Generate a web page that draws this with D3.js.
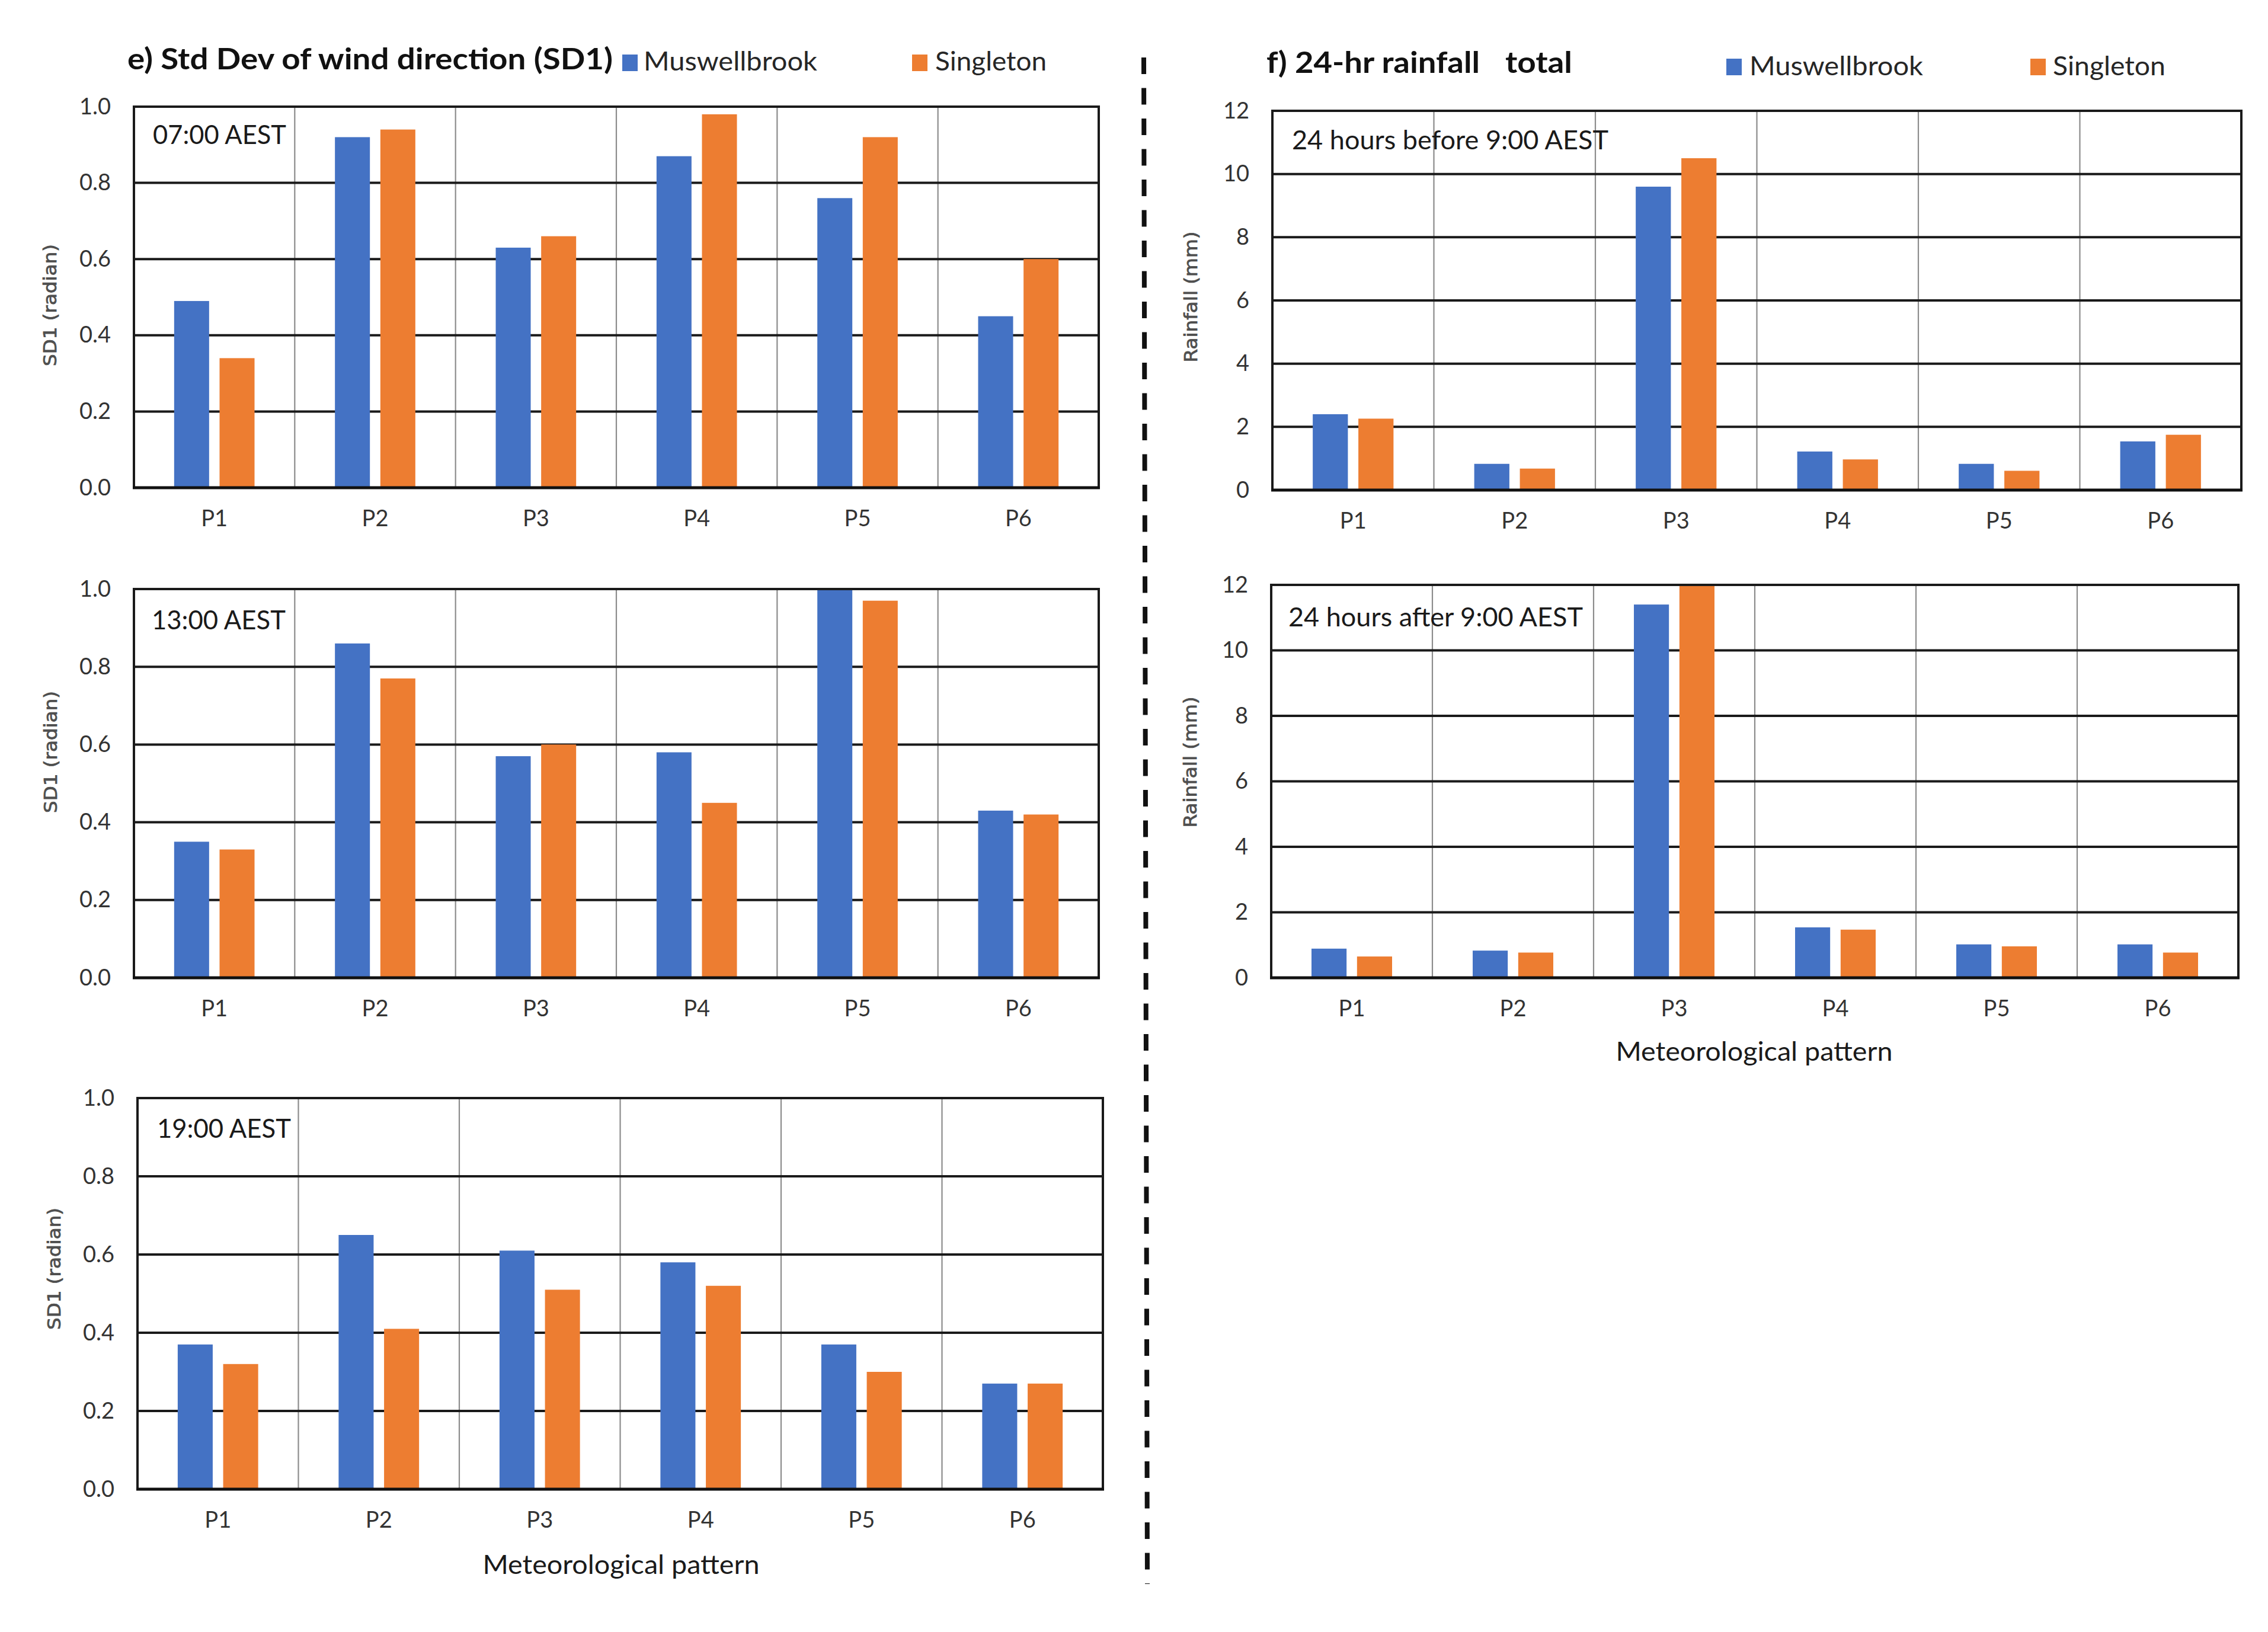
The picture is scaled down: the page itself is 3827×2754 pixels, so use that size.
<!DOCTYPE html>
<html>
<head>
<meta charset="utf-8">
<script src="https://cdn.jsdelivr.net/npm/d3@7"></script>
<style>
  html, body { margin: 0; padding: 0; background: #fff; }
  svg { display: block; }
  text { white-space: pre; }
</style>
</head>
<body>
<svg id="chart" width="3827" height="2754"></svg>
<script>
// ---------------- DATA ----------------
const categories = ["P1", "P2", "P3", "P4", "P5", "P6"];
const seriesNames = ["Muswellbrook", "Singleton"];

// e) Std Dev of wind direction (SD1), radian
const sd0700Muswellbrook = [0.49, 0.92, 0.63, 0.87, 0.76, 0.45];
const sd0700Singleton    = [0.34, 0.94, 0.66, 0.98, 0.92, 0.60];
const sd1300Muswellbrook = [0.35, 0.86, 0.57, 0.58, 1.00, 0.43];
const sd1300Singleton    = [0.33, 0.77, 0.60, 0.45, 0.97, 0.42];
const sd1900Muswellbrook = [0.37, 0.65, 0.61, 0.58, 0.37, 0.27];
const sd1900Singleton    = [0.32, 0.41, 0.51, 0.52, 0.30, 0.27];

// f) 24-hr rainfall total, mm
const rainBeforeMuswellbrook = [2.40, 0.83, 9.60, 1.22, 0.83, 1.54];
const rainBeforeSingleton    = [2.26, 0.68, 10.50, 0.97, 0.61, 1.75];
const rainAfterMuswellbrook  = [0.89, 0.83, 11.40, 1.54, 1.02, 1.02];
const rainAfterSingleton     = [0.65, 0.77, 12.00, 1.47, 0.96, 0.77];

const sdTicks = [0, 0.2, 0.4, 0.6, 0.8, 1.0];
const rainTicks = [0, 2, 4, 6, 8, 10, 12];

// ---------------- STYLE / LAYOUT ----------------
const colors = ["#4472C4", "#ED7D31"];
const FONT = "Lato, 'Open Sans', sans-serif";
const AXFONT = "'DejaVu Sans', Verdana, sans-serif";

const svg = d3.select("#chart");

function addText(sel, opts) {
  const t = sel.append("text")
    .attr("x", opts.x).attr("y", opts.y)
    .attr("font-family", opts.family || FONT)
    .attr("font-size", opts.size)
    .attr("font-weight", opts.weight || "normal")
    .attr("fill", opts.fill || "#111")
    .attr("text-anchor", opts.anchor || "start")
    .text(opts.text);
  if (opts.len) t.attr("textLength", opts.len).attr("lengthAdjust", "spacingAndGlyphs");
  if (opts.dy) t.attr("dy", opts.dy);
  if (opts.transform) t.attr("transform", opts.transform);
  if (opts.stroke) t.attr("stroke", opts.fill).attr("stroke-width", opts.stroke);
  return t;
}

function panel(cfg) {
  const g = svg.append("g");
  const x = d3.scaleBand().domain(categories).range([cfg.left, cfg.right]).padding(0);
  const y = d3.scaleLinear().domain(cfg.domain).range([cfg.bottom, cfg.top]);
  const sub = d3.scaleBand().domain(seriesNames)
    .range([-x.bandwidth() * 0.25, x.bandwidth() * 0.25]).paddingInner(0.23);

  // vertical category separators (gray)
  g.append("g").selectAll("line")
    .data(categories.slice(1))
    .join("line")
    .attr("x1", d => x(d)).attr("x2", d => x(d))
    .attr("y1", cfg.top).attr("y2", cfg.bottom)
    .attr("stroke", "#8c8c8c").attr("stroke-width", 2.2);

  // horizontal gridlines (black)
  g.append("g").selectAll("line")
    .data(cfg.ticks.slice(1))
    .join("line")
    .attr("x1", cfg.left).attr("x2", cfg.right)
    .attr("y1", d => y(d)).attr("y2", d => y(d))
    .attr("stroke", "#1a1a1a").attr("stroke-width", 4);

  // bars
  const rows = categories.map((c, i) => ({ c, vals: cfg.series.map(s => s[i]) }));
  g.append("g").selectAll("g")
    .data(rows)
    .join("g")
    .attr("transform", d => `translate(${x(d.c) + x.bandwidth() / 2},0)`)
    .selectAll("rect")
    .data(d => d.vals.map((v, k) => ({ v, k })))
    .join("rect")
    .attr("x", d => sub(seriesNames[d.k]))
    .attr("width", sub.bandwidth())
    .attr("y", d => y(Math.min(d.v, cfg.domain[1])))
    .attr("height", d => cfg.bottom - y(Math.min(d.v, cfg.domain[1])))
    .attr("fill", d => colors[d.k]);

  // plot border
  g.append("rect")
    .attr("x", cfg.left).attr("y", cfg.top)
    .attr("width", cfg.right - cfg.left).attr("height", cfg.bottom - cfg.top)
    .attr("fill", "none").attr("stroke", "#1a1a1a").attr("stroke-width", 4);
  g.append("line")
    .attr("x1", cfg.left - 2).attr("x2", cfg.right + 2)
    .attr("y1", cfg.bottom).attr("y2", cfg.bottom)
    .attr("stroke", "#111").attr("stroke-width", 5);

  // y axis
  const ya = g.append("g").attr("transform", `translate(${cfg.left},0)`)
    .call(d3.axisLeft(y).tickValues(cfg.ticks).tickSize(0).tickPadding(39).tickFormat(cfg.fmt));
  ya.select(".domain").remove();
  ya.selectAll("text")
    .attr("font-family", FONT).attr("font-size", 38).attr("fill", "#333");

  // x axis
  const xa = g.append("g").attr("transform", `translate(0,${cfg.bottom})`)
    .call(d3.axisBottom(x).tickSize(0).tickPadding(38));
  xa.select(".domain").remove();
  xa.selectAll("text")
    .attr("font-family", FONT).attr("font-size", 38).attr("fill", "#333");

  // panel label
  addText(g, { x: cfg.labelX, y: cfg.labelY, size: 44, text: cfg.label, len: cfg.labelLen, fill: "#1a1a1a" });

  // y title
  addText(g, {
    x: 0, y: 0, size: 31, family: AXFONT, fill: "#4f4f4f", anchor: "middle",
    text: cfg.yTitle, len: cfg.yTitleLen, dy: "0.35em", stroke: 0.8,
    transform: `translate(${cfg.yTitleX},${cfg.yTitleY}) rotate(-90)`
  });

  if (cfg.xTitle) {
    addText(g, { x: cfg.xTitleX, y: cfg.xTitleY, size: 44, anchor: "middle",
      text: cfg.xTitle, len: 467, fill: "#1a1a1a" });
  }
}

const fmtSD = d3.format(".1f");
const fmtRain = d3.format("d");

panel({ left: 226, right: 1854, top: 180, bottom: 823, domain: [0, 1], ticks: sdTicks, fmt: fmtSD,
  series: [sd0700Muswellbrook, sd0700Singleton],
  label: "07:00 AEST", labelX: 258, labelY: 243, labelLen: 225,
  yTitle: "SD1 (radian)", yTitleLen: 206, yTitleX: 84, yTitleY: 515 });

panel({ left: 226, right: 1854, top: 994, bottom: 1650, domain: [0, 1], ticks: sdTicks, fmt: fmtSD,
  series: [sd1300Muswellbrook, sd1300Singleton],
  label: "13:00 AEST", labelX: 256, labelY: 1062, labelLen: 226,
  yTitle: "SD1 (radian)", yTitleLen: 206, yTitleX: 85, yTitleY: 1269 });

panel({ left: 232, right: 1861, top: 1853, bottom: 2513, domain: [0, 1], ticks: sdTicks, fmt: fmtSD,
  series: [sd1900Muswellbrook, sd1900Singleton],
  label: "19:00 AEST", labelX: 265, labelY: 1920, labelLen: 226,
  yTitle: "SD1 (radian)", yTitleLen: 206, yTitleX: 91, yTitleY: 2141,
  xTitle: "Meteorological pattern", xTitleX: 1048, xTitleY: 2656 });

panel({ left: 2147, right: 3782, top: 187, bottom: 827, domain: [0, 12], ticks: rainTicks, fmt: fmtRain,
  series: [rainBeforeMuswellbrook, rainBeforeSingleton],
  label: "24 hours before 9:00 AEST", labelX: 2180, labelY: 252, labelLen: 534,
  yTitle: "Rainfall (mm)", yTitleLen: 221, yTitleX: 2009, yTitleY: 501 });

panel({ left: 2145, right: 3777, top: 987, bottom: 1650, domain: [0, 12], ticks: rainTicks, fmt: fmtRain,
  series: [rainAfterMuswellbrook, rainAfterSingleton],
  label: "24 hours after 9:00 AEST", labelX: 2174, labelY: 1057, labelLen: 497,
  yTitle: "Rainfall (mm)", yTitleLen: 221, yTitleX: 2008, yTitleY: 1286,
  xTitle: "Meteorological pattern", xTitleX: 2960, xTitleY: 1790 });

// ---------------- TITLES & LEGENDS ----------------
addText(svg, { x: 215, y: 117, size: 50, weight: "bold", text: "e) Std Dev of wind direction (SD1)", len: 819 });
addText(svg, { x: 2137, y: 123, size: 50, weight: "bold", text: "f) 24-hr rainfall", len: 360 });
addText(svg, { x: 2540, y: 123, size: 50, weight: "bold", text: "total", len: 113 });

function legend(items) {
  items.forEach((it, k) => {
    svg.append("rect").attr("x", it.sx).attr("y", it.sy).attr("width", 26).attr("height", 28)
      .attr("fill", colors[k]);
    addText(svg, { x: it.tx, y: it.ty, size: 44, text: seriesNames[k], len: it.len, fill: "#262626" });
  });
}
legend([
  { sx: 1050, sy: 92, tx: 1086, ty: 119, len: 293 },
  { sx: 1539, sy: 92, tx: 1578, ty: 119, len: 188 }
]);
legend([
  { sx: 2913, sy: 99, tx: 2952, ty: 127, len: 293 },
  { sx: 3426, sy: 99, tx: 3464, ty: 127, len: 190 }
]);

// dashed separator
svg.append("line")
  .attr("x1", 1930).attr("y1", 97).attr("x2", 1936).attr("y2", 2673)
  .attr("stroke", "#111").attr("stroke-width", 8)
  .attr("stroke-dasharray", "28,23.5");
</script>
</body>
</html>
